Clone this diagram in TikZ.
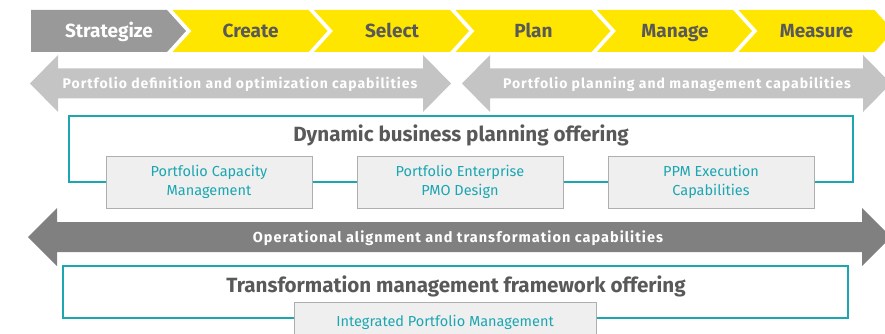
\documentclass[tikz,border=0pt]{standalone}
\usepackage{fontspec}
\setmainfont{Fira Sans}
\newfontfamily\bandfont{Fira Sans}[LetterSpace=7]
\usetikzlibrary{calc}

\definecolor{eyyellow}{HTML}{FFE600}
\definecolor{stepgray}{HTML}{999999}
\definecolor{lightband}{HTML}{C4C4C4}
\definecolor{darkband}{HTML}{808080}
\definecolor{offerteal}{HTML}{1BA6B1}
\definecolor{textgray}{HTML}{595959}
\definecolor{modfill}{HTML}{EFEFEF}
\definecolor{modborder}{HTML}{AEAEAE}

\begin{document}
\begin{tikzpicture}[x=1pt,y=-1pt,
    phase/.style={anchor=base, font=\bfseries\fontsize{19}{22}\selectfont},
    band/.style={anchor=base, font=\bandfont\bfseries\fontsize{14}{16}\selectfont, text=white},
    offer/.style={draw=offerteal, line width=1.5pt},
    title/.style={anchor=base, font=\bfseries\fontsize{20.6}{24}\selectfont, text=textgray},
    module/.style={draw=modborder, line width=1pt, fill=modfill, text=offerteal,
      align=center, minimum width=206, minimum height=52,
      font=\fontsize{14.5}{19}\selectfont}]
\useasboundingbox (0,0) rectangle (885,334);

% phase chevrons
\foreach \i/\name/\bg/\fg/\notch in {0/Strategize/stepgray/white/0,
    1/Create/eyyellow/textgray/19, 2/Select/eyyellow/textgray/19,
    3/Plan/eyyellow/textgray/19, 4/Manage/eyyellow/textgray/19,
    5/Measure/eyyellow/textgray/19}{
  \pgfmathsetmacro\xa{31+141.5*\i}
  \fill[\bg] (\xa,10) -- ++(136,0) -- ++(19,21) -- ++(-19,21) -- ++(-136,0)
    -- ++(\notch,-21) -- cycle;
  \node[phase, text=\fg] (phase\i) at (\xa+78,37.5) {\name};
}

% capability bands
\fill[lightband] (30,83.5) -- (58,55) -- (58,68.5) -- (423,68.5) -- (423,55)
  -- (451,83.5) -- (423,112) -- (423,98.5) -- (58,98.5) -- (58,112) -- cycle;
\fill[lightband] (462,83.5) -- (490,55) -- (490,68.5) -- (863,68.5) -- (863,55)
  -- (891,83.5) -- (863,112) -- (863,98.5) -- (490,98.5) -- (490,112) -- cycle;
\node[band] (definition) at (240,89) {Portfolio definition and optimization capabilities};
\node[band] (planning) at (677,89) {Portfolio planning and management capabilities};

\fill[darkband] (28,237) -- (57,208) -- (57,222) -- (862,222) -- (862,208)
  -- (891,237) -- (862,266) -- (862,252) -- (57,252) -- (57,266) -- cycle;
\node[band, font=\bandfont\bfseries\fontsize{14.5}{16}\selectfont] (operational)
  at (458,242.5) {Operational alignment and transformation capabilities};

% dynamic business planning offering
\node[title] (dynamic) at (461,141.5) {Dynamic business planning offering};
\node[module] (capacity) at (209,182) {Portfolio Capacity\\Management};
\node[module] (enterprise) at (460,182) {Portfolio Enterprise\\PMO Design};
\node[module] (execution) at (711,182) {PPM Execution\\Capabilities};
\draw[offer] (capacity.west) -| (69,116) -| (853,182) -- (execution.east);
\draw[offer] (capacity.east) -- (enterprise.west);
\draw[offer] (enterprise.east) -- (execution.west);

% transformation management framework offering
\node[title] (framework) at (456,292)
  {Transformation management framework offering};
\node[module, minimum width=302, minimum height=40] (integrated) at (445,322)
  {Integrated Portfolio Management};
\draw[offer] (integrated.west |- 0,318) -| (63,266) -| (848,318)
  -- (integrated.east |- 0,318);
\end{tikzpicture}
\end{document}
